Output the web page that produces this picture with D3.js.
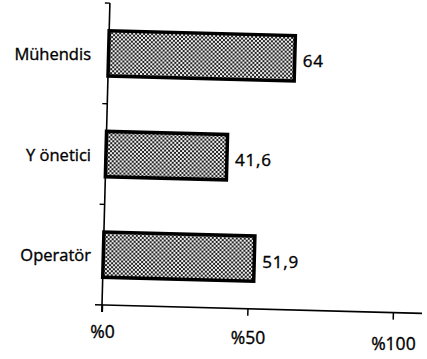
<!DOCTYPE html>
<html><head><meta charset="utf-8">
<script src="https://cdn.jsdelivr.net/npm/d3@7"></script>
<style>
html,body{margin:0;padding:0;background:#fff;}
text{font-family:"Open Sans",sans-serif;fill:#000;stroke:#000;stroke-width:0.35px;}
</style></head>
<body>
<svg id="chart" width="427" height="359"></svg>
<script>
const categories = ["Mühendis", "Y önetici", "Operatör"];
const values = [64, 41.6, 51.9];
const valueLabels = ["64", "41,6", "51,9"];
const tickValues = [0, 50, 100];
const tickLabels = ["%0", "%50", "%100"];

const svg = d3.select("#chart");
svg.append("rect").attr("width", 427).attr("height", 359).attr("fill", "#fff");

const defs = svg.append("defs");
const pat = defs.append("pattern").attr("id", "dots")
  .attr("width", 4).attr("height", 4).attr("patternUnits", "userSpaceOnUse");
pat.append("rect").attr("width", 4).attr("height", 4).attr("fill", "#eeeeee");
pat.append("rect").attr("width", 2).attr("height", 2).attr("fill", "#222");
pat.append("rect").attr("x", 2).attr("y", 2).attr("width", 2).attr("height", 2).attr("fill", "#222");

const x = d3.scaleLinear().domain([0, 100]).range([102, 393]);
const y = d3.scaleBand().domain(categories).range([3, 305]).paddingInner(0.55).paddingOuter(0.275);
const ang = 1.5;
const ox = x(0), oy = y.range()[1];

// category labels (upright, screen aligned)
svg.append("g").selectAll("text").data(categories).join("text")
  .attr("x", 91)
  .attr("y", d => y(d) + y.bandwidth() / 2 + 1)
  .attr("dy", "0.35em")
  .attr("text-anchor", "end")
  .attr("font-size", 16.5)
  .text(d => d);

const g = svg.append("g").attr("transform", `rotate(${ang},${ox},${oy})`);

// bars
g.selectAll("rect.bar").data(values).join("rect").attr("class", "bar")
  .attr("x", x(0))
  .attr("y", (d, i) => y(categories[i]))
  .attr("width", d => x(d) - x(0))
  .attr("height", y.bandwidth())
  .attr("fill", "url(#dots)")
  .attr("stroke", "#000").attr("stroke-width", 3.5);

// value labels
g.selectAll("text.val").data(values).join("text").attr("class", "val")
  .attr("x", d => x(d) + 8)
  .attr("y", (d, i) => y(categories[i]) + y.bandwidth() / 2 + 3)
  .attr("dy", "0.35em")
  .attr("font-size", 17)
  .attr("letter-spacing", 0.8)
  .attr("transform", function (d, i) {
    return `rotate(${-ang},${x(d) + 8},${y(categories[i]) + y.bandwidth() / 2})`;
  })
  .text((d, i) => valueLabels[i]);

// y axis
g.append("line").attr("x1", ox).attr("x2", ox).attr("y1", y.range()[0]).attr("y2", oy + 7)
  .attr("stroke", "#000").attr("stroke-width", 1.6);
const bounds = d3.range(categories.length).map(i => y.range()[0] + i * y.step());
g.selectAll("line.ytick").data(bounds).join("line").attr("class", "ytick")
  .attr("x1", ox - 5).attr("x2", ox).attr("y1", d => d).attr("y2", d => d)
  .attr("stroke", "#000").attr("stroke-width", 1.4);

// x axis
const xAxis = d3.axisBottom(x).tickValues(tickValues).tickSize(7).tickPadding(14)
  .tickFormat((d, i) => tickLabels[i]);
const xg = g.append("g").attr("transform", `translate(0,${oy})`).call(xAxis);
xg.select(".domain").remove();
xg.selectAll(".tick line").attr("stroke", "#000").attr("stroke-width", 1.5);
xg.selectAll(".tick text").attr("font-family", "Open Sans, sans-serif")
  .attr("font-size", 17.5).attr("fill", "#000")
  .attr("transform", (d, i) => `rotate(${-ang}) translate(0,${i * 2})`);
g.append("line").attr("x1", ox - 7).attr("x2", x(110)).attr("y1", oy).attr("y2", oy)
  .attr("stroke", "#000").attr("stroke-width", 1.6);
</script>
</body></html>
